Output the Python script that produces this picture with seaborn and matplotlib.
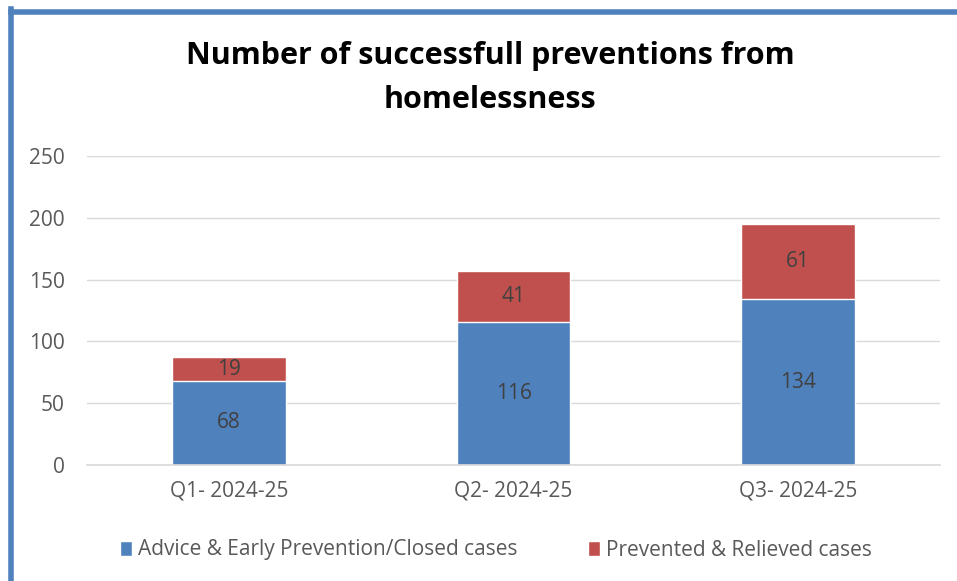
import matplotlib
matplotlib.use("Agg")
import matplotlib.pyplot as plt
import seaborn as sns
import pandas as pd
import numpy as np
from matplotlib.lines import Line2D
from matplotlib.patches import Patch

categories = ["Q1- 2024-25", "Q2- 2024-25", "Q3- 2024-25"]
advice = [68, 116, 134]
prevented = [19, 41, 61]
series_names = ["Advice & Early Prevention/Closed cases", "Prevented & Relieved cases"]
title = "Number of successfull preventions from\nhomelessness"

BLUE = "#4F81BD"
RED = "#C0504D"

sns.set_theme(style="white")
plt.rcParams['font.family'] = ['Open Sans', 'DejaVu Sans']

fig = plt.figure(figsize=(9.57, 5.81), dpi=100)
ax = fig.add_axes([87/957, 1-465/581, (940-87)/957, (465-156)/581])

df = pd.DataFrame({"cat": categories, "advice": advice, "prevented": prevented})
df["total"] = df["advice"] + df["prevented"]

sns.barplot(data=df, x="cat", y="total", color=RED, width=0.4, ax=ax, saturation=1)
sns.barplot(data=df, x="cat", y="advice", color=BLUE, width=0.4, ax=ax, saturation=1)

ax.set_ylim(0, 250)
ax.set_xlim(-0.5, 2.5)
ax.set_yticks([0, 50, 100, 150, 200, 250])
ax.yaxis.grid(True, color="#D9D9D9", linewidth=1)
ax.set_axisbelow(True)
for s in ["top", "right", "left"]:
    ax.spines[s].set_visible(False)
ax.spines["bottom"].set_color("#D9D9D9")
ax.spines["bottom"].set_linewidth(1.2)
ax.set_xlabel("")
ax.set_ylabel("")
ax.tick_params(axis="both", length=0, labelsize=15, colors="#595959")
ax.tick_params(axis="y", pad=16)
ax.tick_params(axis="x", pad=11)

for i in range(len(categories)):
    ax.text(i, advice[i]/2, str(advice[i]), ha="center", va="center", fontsize=15, color="#404040")
    ax.text(i, advice[i] + prevented[i]/2, str(prevented[i]), ha="center", va="center", fontsize=15, color="#404040")

fig.text(490/957, 1-78/581, title, ha="center", va="center", fontsize=22, fontweight="bold",
         color="black", linespacing=1.6)

handles = [Patch(facecolor=BLUE, label=series_names[0]), Patch(facecolor=RED, label=series_names[1])]
fig.legend(handles=handles, loc="center", bbox_to_anchor=(496/957, 1-550/581), ncol=2, frameon=False,
           fontsize=15, handlelength=0.55, handleheight=0.75, handletextpad=0.3, columnspacing=3.4,
           labelcolor="#595959")

fig.add_artist(Line2D([10.5/957, 10.5/957], [0, 1-9/581], transform=fig.transFigure, color=BLUE, linewidth=4, solid_capstyle="projecting"))
fig.add_artist(Line2D([10.5/957, 1], [1-11.5/581, 1-11.5/581], transform=fig.transFigure, color=BLUE, linewidth=4, solid_capstyle="projecting"))

fig.savefig("out.png", dpi=100)
